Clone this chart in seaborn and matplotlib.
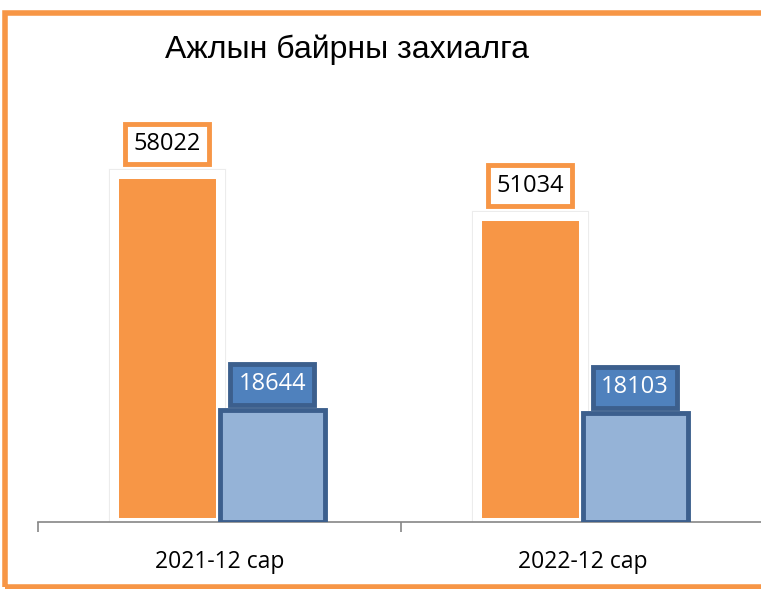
import numpy as np
import pandas as pd
import matplotlib
matplotlib.use("Agg")
import matplotlib.pyplot as plt
import matplotlib.patches as mpatches
import matplotlib.patheffects as pe
from matplotlib.ticker import FixedLocator
import seaborn as sns

# ---------------------------------------------------------------------------
# data
# ---------------------------------------------------------------------------
categories = ["2021-12 сар", "2022-12 сар"]
series_names = ["Захиалга", "Зуучлагдсан"]
orders = [58022, 51034]
placed = [18644, 18103]
title = "Ажлын байрны захиалга"

ORANGE = "#F79646"
BLUE_FILL = "#95B3D7"
BLUE_EDGE = "#3C5F8D"
BLUE_LABEL = "#4F81BD"

df = pd.DataFrame({
    "period": categories * 2,
    "series": [series_names[0]] * 2 + [series_names[1]] * 2,
    "value": orders + placed,
})

sns.set_theme(style="white")
plt.rcParams["font.family"] = ["Open Sans", "DejaVu Sans"]

fig = plt.figure(figsize=(7.61, 5.89), dpi=100)
W, H = 761, 589
ax = fig.add_axes([38 / W, 67 / H, 726 / W, 462 / H])

sns.barplot(data=df, x="period", y="value", hue="series",
            order=categories, hue_order=series_names,
            palette=[ORANGE, BLUE_FILL], saturation=1,
            width=0.58, gap=0, legend=False, ax=ax, zorder=2)

ax.set_ylim(0, 462 / 0.006)
ax.set_xlim(-0.5, 1.5)

# bar styling
for p in ax.containers[0]:
    p.set_edgecolor("white")
    p.set_linewidth(6.5)
    p.set_path_effects([pe.Stroke(linewidth=8, foreground="#ececec"),
                        pe.Normal()])
for p in ax.containers[1]:
    p.set_edgecolor(BLUE_EDGE)
    p.set_linewidth(3.5)
    p.set_zorder(3)

# value labels in boxes
ax.bar_label(ax.containers[0], labels=[str(v) for v in orders],
             padding=13, fontsize=17, color="black",
             bbox=dict(boxstyle="square,pad=0.35", fc="white",
                       ec=ORANGE, lw=3.5))
ax.bar_label(ax.containers[1], labels=[str(v) for v in placed],
             padding=10, fontsize=17, color="white",
             bbox=dict(boxstyle="square,pad=0.35", fc=BLUE_LABEL,
                       ec=BLUE_EDGE, lw=3.5))

# axes cosmetics
for s in ["top", "right", "left"]:
    ax.spines[s].set_visible(False)
ax.spines["bottom"].set_color("#868686")
ax.spines["bottom"].set_linewidth(1.2)
ax.set_yticks([])
ax.set_xlabel("")
ax.set_ylabel("")
ax.xaxis.set_minor_locator(FixedLocator([-0.5, 0.5, 1.5]))
ax.tick_params(axis="x", which="major", length=0, pad=20,
               labelsize=16.5, labelcolor="black")
ax.tick_params(axis="x", which="minor", length=7, width=1.2,
               color="#868686", bottom=True, direction="out")

fig.text(165 / W, 1 - 50 / H, title, fontsize=23, color="black",
         family=["Liberation Sans", "DejaVu Sans"],
         ha="left", va="center")

# orange outer frame
frame = mpatches.Rectangle((5 / W, 2 / H), 1.0, 1 - 15 / H,
                           transform=fig.transFigure, fill=False,
                           ec=ORANGE, lw=4, zorder=10)
fig.patches.append(frame)

fig.savefig("out.png", dpi=100)
